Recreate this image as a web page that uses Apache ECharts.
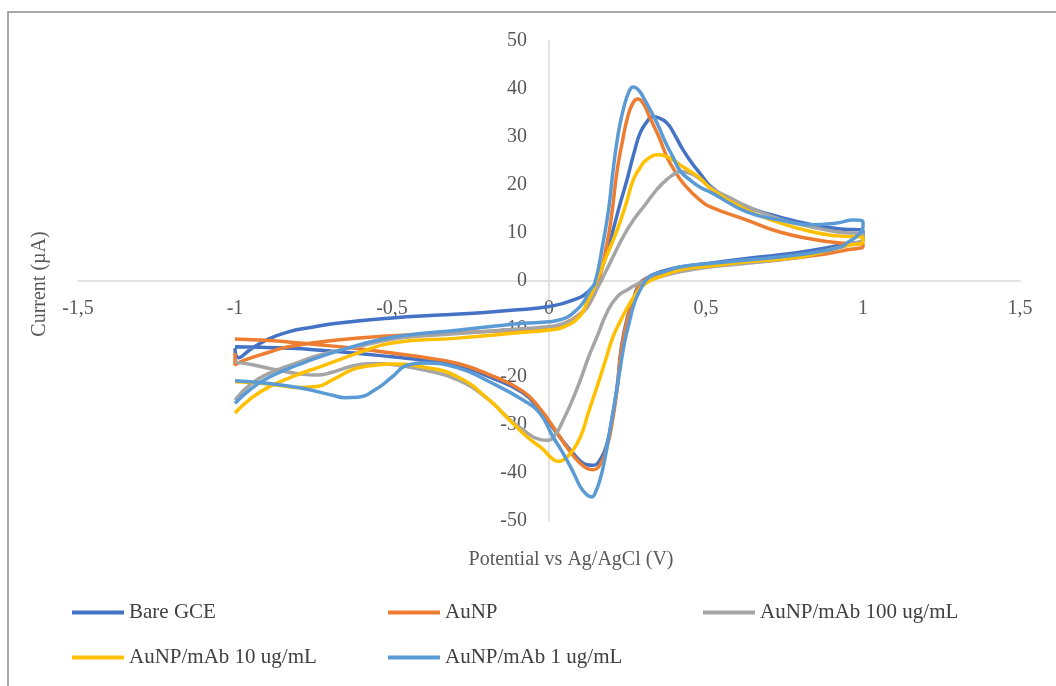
<!DOCTYPE html>
<html>
<head>
<meta charset="utf-8">
<script src="https://cdn.jsdelivr.net/npm/echarts@6/dist/echarts.min.js"></script>
<style>
html,body{margin:0;padding:0;background:#fff;}
#c{width:1056px;height:686px;}
</style>
</head>
<body>
<div id="c"></div>
<script>
// ---- Data (potential V, current µA), in scan order ----
const seriesNames = ['Bare GCE', 'AuNP', 'AuNP/mAb 100 ug/mL', 'AuNP/mAb 10 ug/mL', 'AuNP/mAb 1 ug/mL'];
const seriesColors = ['#4472C4', '#ED7D31', '#A5A5A5', '#FFC000', '#5B9BD5'];

const bareGCE = [
  [-1,-14],[-0.99,-16],[-0.95,-14.2],[-0.9,-12.3],[-0.83,-10.6],[-0.75,-9.6],[-0.675,-8.8],[-0.5,-7.7],[-0.35,-7.1],[-0.24,-6.7],[-0.1,-6],[0,-5.3],[0.076,-4],[0.13,-1.9],[0.156,0.8],[0.18,5],[0.204,10.6],[0.226,16],[0.248,21],[0.27,26.5],[0.29,30.8],[0.31,33],[0.33,34.2],[0.35,34],[0.376,32.9],[0.4,30.5],[0.427,27.3],[0.455,24.6],[0.48,22.5],[0.52,19.4],[0.58,16.8],[0.63,15.4],[0.735,13.3],[0.84,11.7],[0.92,10.9],[1,10.4],
  [1,8.6],[0.95,7.8],[0.84,6.4],[0.73,5.4],[0.63,4.7],[0.5,3.6],[0.417,2.9],[0.35,1.8],[0.32,0.9],[0.29,-0.4],[0.27,-3.5],[0.248,-8],[0.23,-14],[0.217,-22],[0.2,-29],[0.185,-33.8],[0.165,-37],[0.14,-38.4],[0.12,-38.3],[0.1,-37.5],[0.076,-35.8],[0.05,-33.8],[0.025,-31.7],[-0.03,-26.9],[-0.083,-23.3],[-0.19,-20],[-0.29,-17.5],[-0.4,-16.5],[-0.5,-15.8],[-0.62,-15],[-0.75,-14.3],[-0.83,-14],[-0.92,-13.8],[-1,-13.7]
];
const auNP = [
  [-1,-15],[-1,-17.5],[-0.97,-16.5],[-0.9,-15],[-0.83,-13.7],[-0.675,-12.3],[-0.5,-11.4],[-0.3,-10.8],[-0.1,-10.2],[0,-9.8],[0.05,-8.8],[0.1,-6.8],[0.13,-4.6],[0.156,-0.4],[0.185,7.9],[0.2,14],[0.217,23],[0.235,29.5],[0.248,33.5],[0.265,36.8],[0.283,37.9],[0.3,37],[0.32,34.2],[0.35,30],[0.376,25.8],[0.4,23],[0.427,20.4],[0.48,16.9],[0.52,15.3],[0.63,12.7],[0.735,10.2],[0.84,8.7],[0.93,7.9],[1,7.6],
  [1,7.2],[0.95,6.5],[0.895,5.8],[0.735,4.4],[0.52,3.3],[0.417,2.7],[0.35,1.5],[0.32,0.8],[0.29,-0.6],[0.27,-4],[0.248,-8.5],[0.23,-14.5],[0.217,-22.5],[0.2,-30],[0.185,-34.5],[0.165,-38],[0.14,-39.3],[0.12,-39],[0.1,-38],[0.076,-36.3],[0.05,-34],[0.025,-31.5],[-0.03,-26.5],[-0.083,-23],[-0.19,-19.5],[-0.29,-17.2],[-0.4,-15.9],[-0.5,-15],[-0.62,-14],[-0.75,-13.2],[-0.83,-12.7],[-0.92,-12.3],[-1,-12.1]
];
const mAb100 = [
  [-1,-24.8],[-0.95,-21.5],[-0.89,-19.2],[-0.8,-17],[-0.73,-15.4],[-0.6,-13.5],[-0.475,-11.9],[-0.3,-11],[-0.1,-10],[0,-9.5],[0.05,-8.8],[0.1,-7],[0.13,-4.5],[0.15,-2],[0.172,0.8],[0.2,4.5],[0.236,9.2],[0.27,12.8],[0.31,16.2],[0.34,18.8],[0.363,20.4],[0.39,21.9],[0.42,22.8],[0.45,22.4],[0.48,21.3],[0.52,19.2],[0.58,17.2],[0.63,15.6],[0.735,12.9],[0.84,11.2],[0.92,10.2],[1,9.6],
  [1,8.8],[0.95,7.5],[0.895,6.5],[0.8,5],[0.63,3.7],[0.5,2.8],[0.417,1.9],[0.35,0.8],[0.29,-0.4],[0.25,-1.8],[0.217,-3.3],[0.185,-6.5],[0.153,-11.6],[0.125,-16],[0.1,-20.6],[0.07,-25.5],[0.045,-29],[0.02,-32],[-0.006,-33.2],[-0.03,-33],[-0.083,-31],[-0.14,-28],[-0.19,-24.8],[-0.29,-20.6],[-0.4,-18.5],[-0.5,-17.4],[-0.56,-17.2],[-0.62,-17.6],[-0.69,-19],[-0.74,-19.6],[-0.8,-19.3],[-0.87,-18.5],[-0.94,-17.5],[-1,-16.9]
];
const mAb10 = [
  [-1,-27.5],[-0.95,-24.5],[-0.89,-22],[-0.8,-19.5],[-0.73,-17.9],[-0.6,-14.8],[-0.5,-12.9],[-0.29,-11.9],[-0.1,-10.8],[0,-10.2],[0.05,-9.5],[0.1,-7.2],[0.12,-4.6],[0.14,-2],[0.156,0.8],[0.185,5.5],[0.217,10.6],[0.245,16],[0.268,21],[0.29,23.6],[0.31,25.2],[0.348,26.3],[0.375,25.9],[0.395,25.2],[0.417,24.2],[0.45,22.8],[0.48,21.5],[0.52,19],[0.63,14.8],[0.735,12.1],[0.84,10.2],[0.92,9.4],[1,9],
  [1,8.2],[0.95,7.4],[0.895,6.5],[0.8,5],[0.63,4],[0.5,3],[0.417,2.3],[0.35,0.8],[0.31,-0.4],[0.285,-2],[0.258,-4.6],[0.23,-8],[0.204,-11.6],[0.18,-16.5],[0.153,-22],[0.125,-27.5],[0.1,-32.5],[0.07,-35.8],[0.045,-37.3],[0.03,-37.6],[0.01,-37],[-0.02,-35],[-0.05,-33.5],[-0.083,-31.7],[-0.14,-28],[-0.19,-24.8],[-0.29,-20],[-0.4,-17.9],[-0.5,-17.3],[-0.56,-17.6],[-0.62,-18.3],[-0.69,-20.6],[-0.74,-22],[-0.8,-22.2],[-0.85,-21.8],[-0.92,-21.3],[-1,-21]
];
const mAb1 = [
  [-1,-25.5],[-0.95,-22.5],[-0.89,-20],[-0.8,-17.5],[-0.73,-15.8],[-0.6,-13.2],[-0.5,-11.7],[-0.4,-10.9],[-0.3,-10.3],[-0.2,-9.6],[-0.083,-8.8],[0,-8.5],[0.05,-7.8],[0.08,-6.5],[0.108,-4.6],[0.13,-2],[0.146,-0.4],[0.172,7.9],[0.19,15],[0.204,23],[0.22,30.5],[0.236,35.6],[0.255,39.5],[0.268,40.4],[0.285,39.8],[0.3,38.3],[0.344,32.9],[0.37,29],[0.395,25.8],[0.417,23],[0.45,21],[0.48,19.6],[0.52,18.3],[0.63,14.4],[0.735,12.7],[0.84,11.7],[0.917,12.1],[0.97,12.7],[1,12.3],
  [1,11.5],[0.985,9.6],[0.95,8],[0.93,7.1],[0.85,6],[0.735,5],[0.52,3.7],[0.417,2.9],[0.36,1.8],[0.32,0.9],[0.29,-1.9],[0.27,-5],[0.258,-8],[0.24,-13],[0.226,-18.5],[0.21,-25],[0.194,-31],[0.178,-37],[0.162,-41.5],[0.145,-44.5],[0.137,-45],[0.12,-44.5],[0.1,-42.9],[0.08,-40.2],[0.057,-37.3],[0.035,-34.8],[0.013,-32.5],[-0.03,-27.5],[-0.083,-24.8],[-0.19,-21],[-0.29,-18.1],[-0.4,-17.1],[-0.45,-17.5],[-0.5,-20],[-0.55,-22.5],[-0.61,-24.2],[-0.65,-24.3],[-0.69,-23.8],[-0.79,-22.3],[-0.9,-21.3],[-1,-20.8]
];
const seriesData = [bareGCE, auNP, mAb100, mAb10, mAb1];

const xAxisTitle = 'Potential vs Ag/AgCl (V)';
const yAxisTitle = 'Current (µA)';

const FONT = '"Liberation Serif", "Times New Roman", serif';
const chart = echarts.init(document.getElementById('c'), null, {renderer: 'canvas'});

const legendPos = [[72, 602], [388, 602], [703, 602], [72, 647], [388, 647]];

const GRID = {left: 78, right: 36, top: 41, bottom: 165};
const plotW = 1056 - GRID.left - GRID.right;
const plotH = 686 - GRID.top - GRID.bottom;
const X_MIN = -1.5, X_MAX = 1.5, Y_MIN = -50, Y_MAX = 50;

const option = {
  animation: false,
  backgroundColor: '#fff',
  grid: Object.assign({containLabel: false}, GRID),
  xAxis: {
    type: 'value', min: X_MIN, max: X_MAX, interval: 0.5,
    position: 'bottom',
    offset: -plotH * (0 - Y_MIN) / (Y_MAX - Y_MIN),
    axisLine: {onZero: false, lineStyle: {color: '#D9D9D9', width: 1.5}},
    axisTick: {show: false},
    splitLine: {show: false},
    axisLabel: {
      color: '#595959', fontFamily: FONT, fontSize: 20, margin: 18,
      formatter: v => String(v).replace('.', ',')
    }
  },
  yAxis: {
    type: 'value', min: Y_MIN, max: Y_MAX, interval: 10,
    position: 'left',
    offset: -plotW * (0 - X_MIN) / (X_MAX - X_MIN),
    axisLine: {show: true, onZero: false, lineStyle: {color: '#D9D9D9', width: 1.5}},
    axisTick: {show: false},
    splitLine: {show: false},
    axisLabel: {color: '#595959', fontFamily: FONT, fontSize: 20, margin: 22}
  },
  legend: seriesNames.map((n, i) => ({
    data: [n], left: legendPos[i][0], top: legendPos[i][1],
    icon: 'rect', itemWidth: 52, itemHeight: 4, itemGap: 0, padding: 0,
    textStyle: {color: '#404040', fontFamily: FONT, fontSize: 21}
  })),
  graphic: [
    {type: 'rect', shape: {x: 8, y: 12, width: 1200, height: 800}, style: {fill: 'none', stroke: '#8C8C8C', lineWidth: 1.5}, silent: true},
    {type: 'text', x: 571, y: 560, style: {text: xAxisTitle, fill: '#595959', font: '20px ' + FONT, textAlign: 'center', textVerticalAlign: 'middle'}},
    {type: 'text', x: 40, y: 284, rotation: Math.PI / 2, style: {text: yAxisTitle, fill: '#595959', font: '20px ' + FONT, textAlign: 'center', textVerticalAlign: 'middle'}}
  ],
  series: seriesNames.map((n, i) => ({
    name: n, type: 'line', data: seriesData[i], smooth: 0.5,
    showSymbol: false, symbol: 'none',
    lineStyle: {color: seriesColors[i], width: 3.5},
    itemStyle: {color: seriesColors[i]},
    z: 2 + i
  }))
};
chart.setOption(option);
</script>
</body>
</html>
